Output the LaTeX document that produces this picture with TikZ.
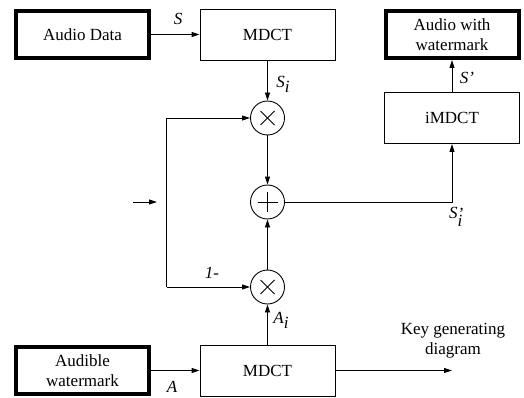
\documentclass[tikz,border=0pt]{standalone}
\usepackage{fontspec}
\setmainfont{Liberation Serif}
\usetikzlibrary{arrows.meta}

\begin{document}
\begin{tikzpicture}[x=1pt,y=-1pt,
  font=\fontsize{17}{20}\selectfont,
  arr/.style={-{Triangle[length=8pt,width=5pt]}, line width=0.9pt},
  conn/.style={line width=0.9pt},
  blockbox/.style={draw, line width=0.9pt, minimum width=135pt, minimum height=51pt, inner sep=0pt, align=center},
  iobox/.style={draw, line width=4pt, minimum width=133pt, minimum height=47pt, inner sep=0pt, align=center},
  opnode/.style={draw, circle, line width=0.9pt, minimum size=34pt, inner sep=0pt},
  sig/.style={font=\fontsize{17}{20}\selectfont\itshape, inner sep=0pt}
]
\useasboundingbox (0,0) rectangle (524,398);

% blocks
\node[iobox] (audio) at (82.5,34.5) {Audio Data};
\node[blockbox] (mdct1) at (267.5,34.5) {MDCT};
\node[iobox] (wout) at (452,34.5) {Audio with\\watermark};
\node[blockbox] (imdct) at (452,118) {iMDCT};
\node[iobox] (wmark) at (82.5,370.5) {Audible\\watermark};
\node[blockbox] (mdct2) at (267.5,370.5) {MDCT};

% operators
\node[opnode] (mul1) at (267.5,118) {};
\node[opnode] (add) at (267.5,202) {};
\node[opnode] (mul2) at (267.5,287) {};
\foreach \n in {mul1,mul2}{
  \draw[conn] ([shift={(-7,-7)}]\n.center) -- ([shift={(7,7)}]\n.center);
  \draw[conn] ([shift={(-7,7)}]\n.center) -- ([shift={(7,-7)}]\n.center);
}
\draw[conn] ([shift={(-10,0)}]add.center) -- ([shift={(10,0)}]add.center);
\draw[conn] ([shift={(0,-10)}]add.center) -- ([shift={(0,10)}]add.center);

% helper points
\coordinate (jtop) at (166.7,118);
\coordinate (jbot) at (166.7,287);
\coordinate (turn) at (452,202);
\coordinate (ain) at (133,202);
\coordinate (aend) at (157,202);
\coordinate (key) at (452,370.5);

% connectors
\draw[arr] (audio) -- (mdct1);
\draw[arr] (mdct1) -- (mul1);
\draw[arr] (mul1) -- (add);
\draw[arr] (mul2) -- (add);
\draw[arr] (mdct2) -- (mul2);
\draw[arr] (wmark) -- (mdct2);
\draw[arr] (mdct2) -- (key);
\draw[arr] (add) -- (turn) -- (imdct);
\draw[arr] (imdct) -- (wout);
\draw[conn] (jtop) -- (jbot);
\draw[arr] (jtop) -- (mul1);
\draw[arr] (jbot) -- (mul2);
\draw[arr] (ain) -- (aend);

% signal labels
\node[sig] (lS) at (178,19) {S};
\node[sig] (lSi) at (283,84) {S\raisebox{-5pt}{i}};
\node[sig] (lSp) at (467,78) {S’};
\node[sig, anchor=base west] (lSpi) at (449,218) {S\raisebox{-8pt}{\shortstack[l]{’\\[-8pt]i}}};
\node[sig] (lA) at (172,387) {A};
\node[sig] (lAi) at (281,320) {A\raisebox{-5pt}{i}};
\node[sig] (lone) at (212,273) {1-};
\node[align=center] (lkey) at (453,341) {Key generating\\diagram};
\end{tikzpicture}
\end{document}
